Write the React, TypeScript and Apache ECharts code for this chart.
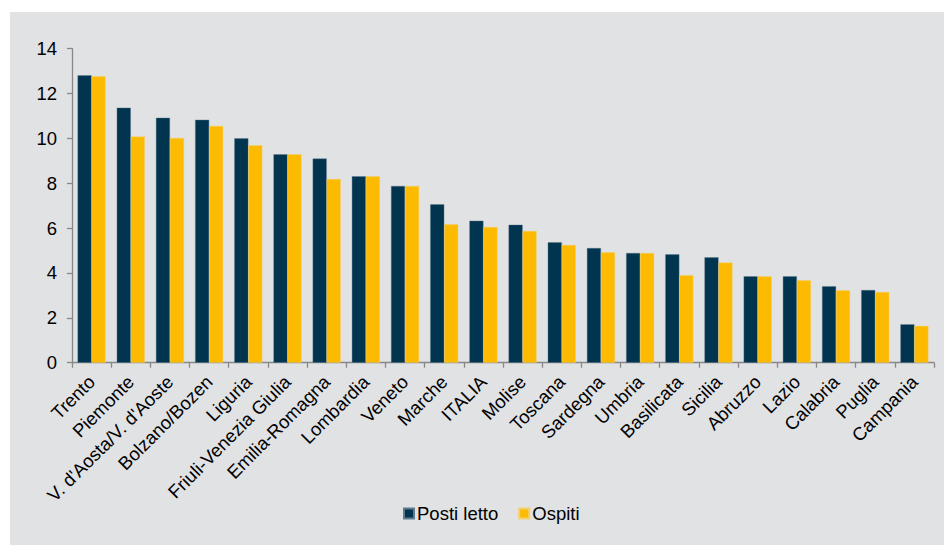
import React, { useEffect, useRef } from "react";
import * as echarts from "echarts";

const categories = [
  "Trento",
  "Piemonte",
  "V. d'Aosta/V. d'Aoste",
  "Bolzano/Bozen",
  "Liguria",
  "Friuli-Venezia Giulia",
  "Emilia-Romagna",
  "Lombardia",
  "Veneto",
  "Marche",
  "ITALIA",
  "Molise",
  "Toscana",
  "Sardegna",
  "Umbria",
  "Basilicata",
  "Sicilia",
  "Abruzzo",
  "Lazio",
  "Calabria",
  "Puglia",
  "Campania",
];

const postiLetto = [
  12.81, 11.37, 10.92, 10.83, 10.0, 9.29, 9.1, 8.31, 7.88, 7.06, 6.33, 6.15,
  5.37, 5.11, 4.89, 4.83, 4.7, 3.85, 3.85, 3.41, 3.24, 1.71,
];

const ospiti = [
  12.77, 10.08, 10.02, 10.55, 9.69, 9.29, 8.19, 8.31, 7.88, 6.17, 6.05, 5.87,
  5.25, 4.92, 4.89, 3.9, 4.46, 3.85, 3.67, 3.23, 3.15, 1.64,
];

const seriesNames = ["Posti letto", "Ospiti"];

export default function App() {
  const ref = useRef<HTMLDivElement>(null);

  useEffect(() => {
    if (!ref.current) return;
    const chart = echarts.init(ref.current, null, { renderer: "svg" });
    const font = "'Liberation Sans', Arial, sans-serif";
    chart.setOption({
      animation: false,
      backgroundColor: "#ffffff",
      textStyle: { fontFamily: font },
      graphic: [
        {
          type: "rect",
          z: -10,
          silent: true,
          shape: { x: 10, y: 12, width: 934, height: 533 },
          style: { fill: "#e1e2e4" },
        },
      ],
      grid: { left: 72, right: 10, top: 48.7, bottom: 182.3, containLabel: false },
      legend: {
        data: seriesNames,
        bottom: 17,
        left: 398,
        itemWidth: 10,
        itemHeight: 10,
        itemGap: 20,
        icon: "rect",
        textStyle: { fontSize: 18.5, color: "#000", fontFamily: font, padding: [0, 0, 0, -2] },
      },
      xAxis: {
        type: "category",
        data: categories,
        boundaryGap: true,
        axisLine: { show: true, lineStyle: { color: "#888888", width: 1.3 } },
        axisTick: { show: true, length: 5, lineStyle: { color: "#888888", width: 1.3 } },
        axisLabel: {
          rotate: 45,
          interval: 0,
          margin: 16,
          fontSize: 18.5,
          color: "#000",
          fontFamily: font,
        },
        splitLine: { show: false },
      },
      yAxis: {
        type: "value",
        min: 0,
        max: 14,
        interval: 2,
        axisLine: { show: true, lineStyle: { color: "#888888", width: 1.3 } },
        axisTick: { show: true, length: 5, lineStyle: { color: "#888888", width: 1.3 } },
        axisLabel: { margin: 15, fontSize: 18.5, color: "#000", fontFamily: font },
        splitLine: { show: false },
      },
      series: [
        {
          name: seriesNames[0],
          type: "bar",
          data: postiLetto,
          barGap: "0%",
          barCategoryGap: "28.6%",
          itemStyle: { color: "#00344f", borderColor: "#5f7a8c", borderWidth: 0.4 },
        },
        {
          name: seriesNames[1],
          type: "bar",
          data: ospiti,
          barGap: "0%",
          barCategoryGap: "28.6%",
          itemStyle: { color: "#fdbb00", borderColor: "#f3cf70", borderWidth: 0.4 },
        },
      ],
    });
    return () => chart.dispose();
  }, []);

  return (
    <div
      ref={ref}
      style={{ position: "fixed", left: 0, top: 0, width: 944, height: 545 }}
    />
  );
}
